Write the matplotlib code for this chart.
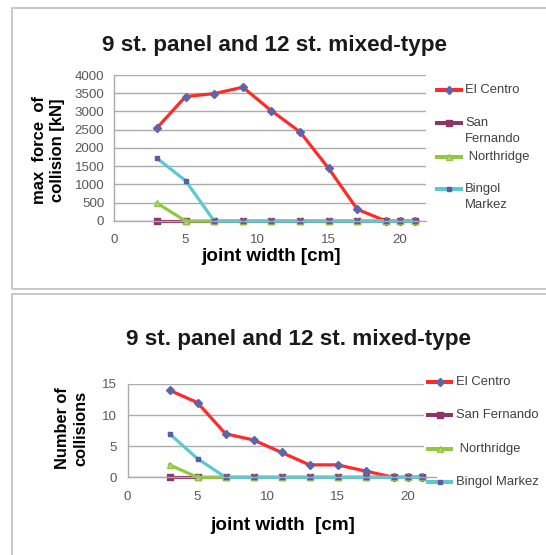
import matplotlib
matplotlib.use("Agg")
import matplotlib.pyplot as plt
from matplotlib.patches import Rectangle
from matplotlib.lines import Line2D

plt.rcParams['font.family'] = ['Liberation Sans', 'DejaVu Sans']

# ---------------- data ----------------
joint_width = [3, 5, 7, 9, 11, 13, 15, 17, 19, 20, 21]

force_el_centro = [2550, 3410, 3490, 3665, 3020, 2440, 1440, 320, 0, 0, 0]
force_san_fernando = [0, 0, 0, 0, 0, 0, 0, 0, 0, 0, 0]
force_northridge = [490, 0, 0, 0, 0, 0, 0, 0, 0, 0, 0]
force_bingol = [1720, 1105, 0, 0, 0, 0, 0, 0, 0, 0, 0]

count_el_centro = [14, 12, 7, 6, 4, 2, 2, 1, 0, 0, 0]
count_san_fernando = [0, 0, 0, 0, 0, 0, 0, 0, 0, 0, 0]
count_northridge = [2, 0, 0, 0, 0, 0, 0, 0, 0, 0, 0]
count_bingol = [7, 3, 0, 0, 0, 0, 0, 0, 0, 0, 0]

series_names_1 = ["El Centro", "San\nFernando", " Northridge", "Bingol\nMarkez"]
series_names_2 = ["El Centro", "San Fernando", " Northridge", "Bingol Markez"]

title_text = "9 st. panel and 12 st. mixed-type"
ylabel_1 = "max  force  of\ncollision [kN]"
ylabel_2 = "Number of\ncollisions"
xlabel_1 = "joint width [cm]"
xlabel_2 = "joint width  [cm]"
xticks = [0, 5, 10, 15, 20]
yticks_1 = list(range(0, 4001, 500))
yticks_2 = [0, 5, 10, 15]

# ---------------- styles ----------------
styles = [
    dict(color="#FF2A2A", marker="D", ms=3.6, mfc="#5E64AA", mec="#5E64AA", lw=2.3),
    dict(color="#8E3466", marker="s", ms=4.6, mfc="#8E3466", mec="#8E3466", lw=2.3),
    dict(color="#92C83E", marker="^", ms=4.8, mfc="#B5D98A", mec="#92C83E", lw=2.3),
    dict(color="#5CC8D4", marker="s", ms=2.8, mfc="#5A5CA6", mec="#5A5CA6", lw=2.3),
]

W, H = 546, 555
fig = plt.figure(figsize=(W / 100, H / 100), dpi=100)
fig.patch.set_facecolor("white")


def fx(px):
    return px / W


def fy(py):
    return 1 - py / H


GRID = "#ABABAB"
TICKC = "#595959"
LEGC = "#404040"

# panel borders
fig.add_artist(Rectangle((fx(12), fy(289)), 1.0, fy(8) - fy(289), transform=fig.transFigure,
                         fill=False, ec="#C4C4C4", lw=1.3))
fig.add_artist(Rectangle((fx(12), -0.1), 1.0, fy(294) + 0.1, transform=fig.transFigure,
                         fill=False, ec="#C4C4C4", lw=1.3))


def setup_axes(ax, xmax, yticks, ypad, xpad):
    ax.set_xlim(0, xmax)
    ax.set_ylim(yticks[0], yticks[-1])
    ax.set_xticks(xticks)
    ax.set_yticks(yticks)
    ax.tick_params(length=0, labelsize=9.6, colors=TICKC)
    ax.tick_params(axis="y", pad=ypad)
    ax.tick_params(axis="x", pad=xpad)
    ax.set_axisbelow(True)
    ax.grid(axis="y", color=GRID, lw=1.0)
    for s in ("top", "right"):
        ax.spines[s].set_visible(False)
    for s in ("left", "bottom"):
        ax.spines[s].set_color(GRID)
        ax.spines[s].set_linewidth(1.0)
    ax.spines["bottom"].set_zorder(2.5)


def draw_legend(ax, names, x0, x1, tx, ys, tys):
    for st, name, y, ty in zip(styles, names, ys, tys):
        xm = (x0 + x1) / 2
        ln = Line2D([fx(x0), fx(xm), fx(x1)], [fy(y)] * 3, transform=fig.transFigure,
                    color=st["color"], lw=st["lw"] + 0.6, marker=st["marker"],
                    ms=st["ms"], mfc=st["mfc"], mec=st["mec"], markevery=[1],
                    solid_capstyle="butt")
        fig.add_artist(ln)
        fig.text(fx(tx), fy(ty), name, ha="left", va="center", fontsize=9.4,
                 color=LEGC, linespacing=1.35)


# ---------------- panel 1 ----------------
ax1 = fig.add_axes([fx(114), fy(221), (426 - 114) / W, (221 - 75) / H])
setup_axes(ax1, 21.8, yticks_1, 7.0, 9.5)
for st, vals in zip(styles, [force_el_centro, force_san_fernando, force_northridge, force_bingol]):
    ax1.plot(joint_width, vals, color=st["color"], lw=st["lw"], marker=st["marker"],
             ms=st["ms"], mfc=st["mfc"], mec=st["mec"], clip_on=False)
fig.text(fx(275), fy(45), title_text, ha="center", va="center", fontsize=16.2,
         fontweight="bold", color="#1A1A1A")
ax1.set_xlabel(xlabel_1, fontsize=13.6, fontweight="bold", va="center")
ax1.xaxis.set_label_coords(fx(271), fy(257), transform=fig.transFigure)
ax1.set_ylabel(ylabel_1, fontsize=12, fontweight="bold", va="center", linespacing=1.25)
ax1.yaxis.set_label_coords(fx(48.5), fy(150), transform=fig.transFigure)
draw_legend(ax1, series_names_1, 435, 463, 465, [90, 122.7, 156.7, 189],
            [90, 131, 156.7, 197])

# ---------------- panel 2 ----------------
ax2 = fig.add_axes([fx(127.5), fy(477.3), (435.5 - 127.5) / W, (477.3 - 384) / H])
setup_axes(ax2, 22, yticks_2, 7.5, 10)
for st, vals in zip(styles, [count_el_centro, count_san_fernando, count_northridge, count_bingol]):
    ax2.plot(joint_width, vals, color=st["color"], lw=st["lw"], marker=st["marker"],
             ms=st["ms"], mfc=st["mfc"], mec=st["mec"], clip_on=False, zorder=2)
# white legend area that hides the gridline ends
ax2.add_patch(Rectangle((fx(424), fy(492)), fx(546) - fx(424), fy(372) - fy(492),
                        transform=fig.transFigure, fc="white", ec="none", zorder=1.5,
                        clip_on=False))
fig.text(fx(298), fy(340), title_text, ha="center", va="center", fontsize=16.2,
         fontweight="bold", color="#1A1A1A")
ax2.set_xlabel(xlabel_2, fontsize=13.6, fontweight="bold", va="center")
ax2.xaxis.set_label_coords(fx(282.6), fy(525), transform=fig.transFigure)
ax2.set_ylabel(ylabel_2, fontsize=11.8, fontweight="bold", va="center", linespacing=1.25)
ax2.yaxis.set_label_coords(fx(71.5), fy(428.5), transform=fig.transFigure)
draw_legend(ax2, series_names_2, 426, 453, 455.7, [381.7, 415, 449, 481.7],
            [381.7, 415, 449, 481.7])

fig.savefig("out.png", dpi=100)
